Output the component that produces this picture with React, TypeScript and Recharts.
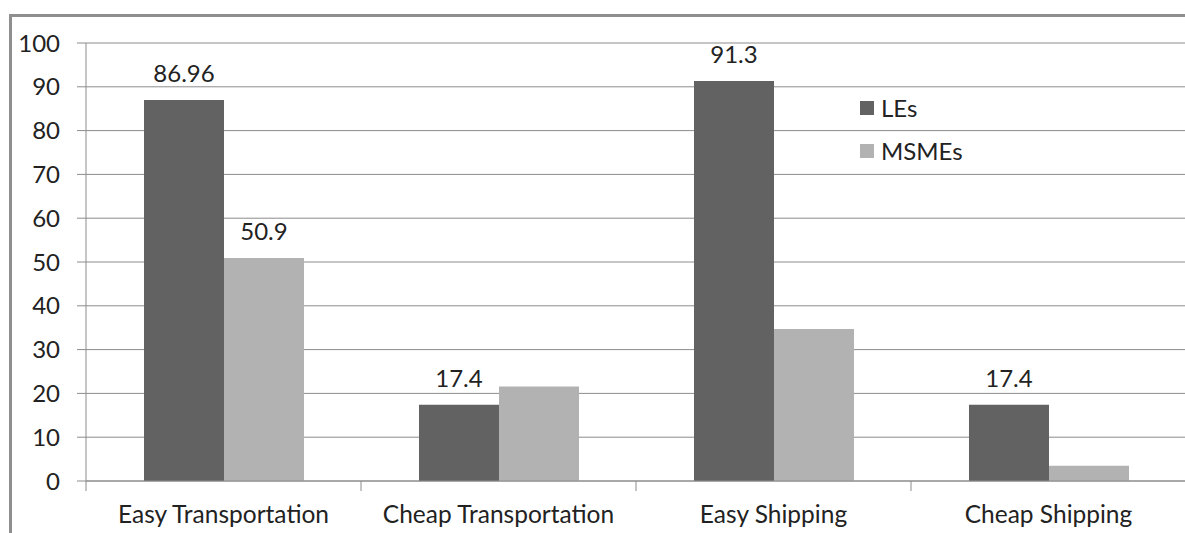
import { BarChart, Bar, XAxis, YAxis, CartesianGrid, Legend, LabelList } from "recharts"

const categories = ["Easy Transportation", "Cheap Transportation", "Easy Shipping", "Cheap Shipping"]
const les = [86.96, 17.4, 91.3, 17.4]
const msmes = [50.9, 21.6, 34.7, 3.5]
const msmeLabelShown = [true, false, false, false]
const yTicks = [0, 10, 20, 30, 40, 50, 60, 70, 80, 90, 100]

const data = categories.map((name, i) => ({ name, les: les[i], msmes: msmes[i] }))

const W = 1186
const H = 533
const TOP = 43
const BOTTOM = 52
const Y_W = 86
const AXIS_Y = H - BOTTOM
const BAND = (W - Y_W) / categories.length
const FONT = "Lato, 'Open Sans', sans-serif"
const GRID = "#8c8c8c"
const FS = 24

function XTick(props: any) {
    const { x, payload, index } = props
    const left = x - BAND / 2
    return (
        <g>
            <line x1={left} x2={left} y1={AXIS_Y} y2={AXIS_Y + 10} stroke={GRID} />
            {index === categories.length - 1 && (
                <line x1={x + BAND / 2} x2={x + BAND / 2} y1={AXIS_Y} y2={AXIS_Y + 10} stroke={GRID} />
            )}
            <text x={x} y={AXIS_Y + 42} textAnchor="middle" fill="#222" fontSize={24.5} fontFamily={FONT}>
                {payload.value}
            </text>
        </g>
    )
}

function MsmeLabel(props: any) {
    const { x, y, width, value, index } = props
    if (!msmeLabelShown[index]) return null
    return (
        <text x={x + width / 2} y={y - 18} textAnchor="middle" fill="#222" fontSize={FS} fontFamily={FONT}>
            {value}
        </text>
    )
}

function LegendBox() {
    const items = [
        { label: "LEs", color: "#626262" },
        { label: "MSMEs", color: "#b2b2b2" },
    ]
    return (
        <div style={{ fontFamily: FONT, fontSize: FS, color: "#222" }}>
            {items.map((it) => (
                <div key={it.label} style={{ display: "flex", alignItems: "center", height: 43 }}>
                    <span style={{ width: 14, height: 14, background: it.color, marginRight: 7 }} />
                    <span>{it.label}</span>
                </div>
            ))}
        </div>
    )
}

export default function App() {
    return (
        <div style={{ position: "absolute", left: 0, top: 0, width: 1185, height: 533, overflow: "hidden", background: "#fff" }}>
            <div style={{ position: "absolute", left: 9, top: 14, width: 1200, height: 600, borderTop: "3px solid #8f8f8f", borderLeft: "3px solid #8f8f8f" }} />
            <div style={{ position: "absolute", left: 0, top: 0 }}>
                <BarChart width={W} height={H} data={data} margin={{ top: TOP, right: 0, bottom: 0, left: 0 }}
                    barCategoryGap={58} barGap={0}>
                    <CartesianGrid vertical={false} stroke={GRID} />
                    <XAxis dataKey="name" height={BOTTOM} axisLine={{ stroke: GRID }} tickLine={false}
                        tick={<XTick />} interval={0} />
                    <YAxis width={Y_W} domain={[0, 100]} ticks={yTicks} axisLine={{ stroke: GRID }}
                        tickLine={{ stroke: GRID }} tickSize={9} tickMargin={17}
                        tick={{ fontSize: FS, fill: "#222", fontFamily: FONT }} />
                    <Legend content={<LegendBox />} layout="vertical" align="center" verticalAlign="middle"
                        wrapperStyle={{ position: "absolute", left: 860, top: 86, width: 150 }} />
                    <Bar dataKey="les" name="LEs" fill="#626262" isAnimationActive={false}>
                        <LabelList dataKey="les" position="top" offset={18} fill="#222" fontSize={FS} fontFamily={FONT} />
                    </Bar>
                    <Bar dataKey="msmes" name="MSMEs" fill="#b2b2b2" isAnimationActive={false}>
                        <LabelList dataKey="msmes" content={<MsmeLabel />} />
                    </Bar>
                </BarChart>
            </div>
        </div>
    )
}
